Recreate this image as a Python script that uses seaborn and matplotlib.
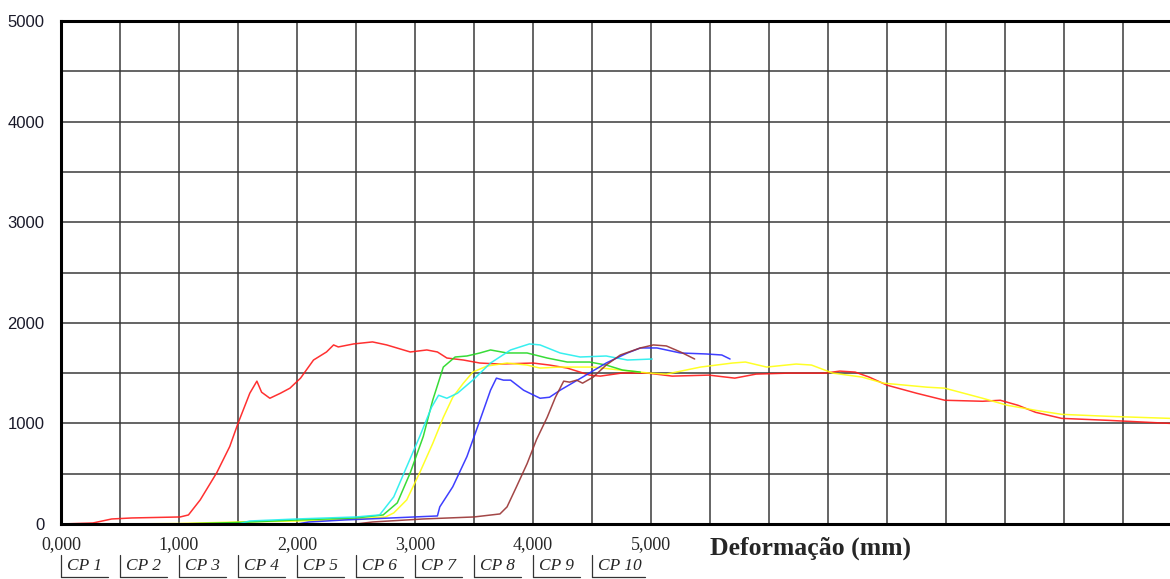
import numpy as np
import pandas as pd
import matplotlib
matplotlib.use("Agg")
import matplotlib.pyplot as plt
import matplotlib.transforms as mtransforms
from matplotlib.lines import Line2D
from matplotlib.ticker import FixedLocator, MultipleLocator, FuncFormatter
import seaborn as sns

# ---------------- data ----------------
red_x = [0, 0.27, 0.43, 0.6, 1.01, 1.08, 1.18, 1.32, 1.43, 1.50, 1.60, 1.66, 1.70, 1.77, 1.86,
         1.94, 2.03, 2.14, 2.25, 2.31, 2.35, 2.48, 2.64, 2.76, 2.96, 3.10, 3.19, 3.27, 3.41,
         3.55, 3.72, 4.00, 4.14, 4.29, 4.48, 4.57, 4.75, 4.97, 5.18, 5.49, 5.71, 5.89, 6.17,
         6.48, 6.60, 6.73, 6.85, 7.00, 7.25, 7.49, 7.81, 7.96, 8.11, 8.26, 8.48, 8.88, 9.40]
red_y = [0, 10, 50, 60, 70, 90, 240, 510, 770, 1000, 1300, 1420, 1310, 1250, 1300,
         1350, 1450, 1630, 1710, 1780, 1760, 1790, 1810, 1780, 1710, 1730, 1710, 1650, 1630,
         1600, 1590, 1600, 1580, 1550, 1480, 1470, 1500, 1500, 1470, 1480, 1450, 1490, 1500,
         1500, 1520, 1510, 1460, 1380, 1300, 1230, 1220, 1230, 1180, 1110, 1050, 1030, 1000]

yellow_x = [0.5, 1.0, 1.5, 2.0, 2.5, 2.75, 2.82, 2.93, 3.04, 3.15, 3.24, 3.32, 3.41, 3.49,
            3.61, 3.78, 3.95, 4.06, 4.23, 4.37, 4.51, 4.74, 4.99, 5.13, 5.42, 5.69, 5.80,
            5.98, 6.23, 6.36, 6.54, 6.79, 6.97, 7.34, 7.49, 7.81, 8.02, 8.26, 8.48, 8.88, 9.40]
yellow_y = [0, 5, 20, 30, 50, 70, 110, 240, 510, 800, 1060, 1260, 1400, 1510,
            1570, 1600, 1580, 1550, 1560, 1560, 1560, 1530, 1500, 1490, 1560, 1600, 1610,
            1560, 1590, 1580, 1500, 1460, 1400, 1360, 1350, 1250, 1180, 1130, 1090, 1070, 1050]

green_x = [1.0, 1.5, 2.0, 2.5, 2.73, 2.85, 2.96, 3.07, 3.15, 3.24, 3.34, 3.44, 3.55, 3.64,
           3.78, 3.95, 4.12, 4.29, 4.48, 4.62, 4.76, 4.91]
green_y = [0, 15, 40, 60, 90, 210, 510, 870, 1230, 1560, 1660, 1670, 1700, 1730,
           1700, 1700, 1650, 1610, 1610, 1580, 1530, 1510]

cyan_x = [1.5, 1.6, 2.0, 2.5, 2.70, 2.82, 2.93, 3.04, 3.14, 3.20, 3.27, 3.36, 3.49, 3.64,
          3.81, 3.97, 4.06, 4.23, 4.40, 4.62, 4.80, 5.01]
cyan_y = [0, 30, 50, 70, 90, 270, 570, 870, 1160, 1280, 1250, 1300, 1430, 1600,
          1730, 1790, 1780, 1700, 1660, 1670, 1630, 1640]

blue_x = [2.0, 2.1, 2.4, 2.8, 3.19, 3.21, 3.32, 3.44, 3.55, 3.64, 3.69, 3.75, 3.81, 3.92,
          4.06, 4.14, 4.23, 4.42, 4.62, 4.80, 4.91, 5.05, 5.25, 5.47, 5.60, 5.67]
blue_y = [0, 20, 40, 60, 80, 170, 370, 670, 1030, 1330, 1450, 1430, 1430, 1330,
          1250, 1260, 1330, 1460, 1600, 1700, 1750, 1750, 1700, 1690, 1680, 1640]

brown_x = [2.5, 2.64, 3.07, 3.5, 3.72, 3.78, 3.86, 3.95, 4.03, 4.12, 4.19, 4.26, 4.31, 4.37,
           4.42, 4.51, 4.62, 4.74, 4.91, 5.02, 5.13, 5.25, 5.37]
brown_y = [0, 20, 50, 70, 100, 170, 370, 600, 840, 1060, 1260, 1420, 1410, 1430,
           1400, 1460, 1580, 1680, 1750, 1780, 1770, 1710, 1640]

series_names = ["CP 1", "CP 2", "CP 3", "CP 4", "CP 5", "CP 6"]
series_colors = ["#ff1a1a", "#ffff10", "#22d822", "#22eeee", "#2a2aff", "#993333"]
legend_labels = ["CP 1", "CP 2", "CP 3", "CP 4", "CP 5", "CP 6", "CP 7", "CP 8", "CP 9", "CP 10"]
x_tick_values = [0, 1, 2, 3, 4, 5]
y_tick_values = [0, 1000, 2000, 3000, 4000, 5000]
x_label = "Deformação (mm)"

frames = []
for name, xs, ys in zip(series_names,
                        [red_x, yellow_x, green_x, cyan_x, blue_x, brown_x],
                        [red_y, yellow_y, green_y, cyan_y, blue_y, brown_y]):
    frames.append(pd.DataFrame({"x": xs, "y": ys, "cp": name}))
df = pd.concat(frames, ignore_index=True)

# ---------------- figure ----------------
sns.set_style("white")
plt.rcParams["font.family"] = ["Liberation Serif", "DejaVu Serif"]

W, H = 1170, 579
fig = plt.figure(figsize=(W / 100, H / 100), dpi=100)
left_px, right_px, top_px, bottom_px = 61, 1170, 21, 524
ax = fig.add_axes([left_px / W, (H - bottom_px) / H, (right_px - left_px) / W,
                   (bottom_px - top_px) / H])

sns.lineplot(data=df, x="x", y="y", hue="cp", hue_order=series_names,
             palette=dict(zip(series_names, series_colors)), sort=False,
             estimator=None, legend=False, linewidth=1.1, alpha=0.9, ax=ax)

px_per_unit = 118.0
ax.set_xlim(0, (right_px - left_px) / px_per_unit)
ax.set_ylim(0, 5000)

ax.xaxis.set_major_locator(FixedLocator(np.arange(0, 9.01, 0.5)))
ax.xaxis.set_major_formatter(FuncFormatter(
    lambda v, p: (f"{v:.3f}".replace(".", ",") if any(abs(v - t) < 1e-6 for t in x_tick_values) else "")))
ax.yaxis.set_major_locator(MultipleLocator(500))
ax.yaxis.set_major_formatter(FuncFormatter(
    lambda v, p: (f"{int(round(v))}" if any(abs(v - t) < 1e-6 for t in y_tick_values) else "")))

ax.grid(True, color="#3a3a3a", linewidth=1.1)
ax.set_axisbelow(True)
ax.tick_params(axis="both", length=0)
ax.tick_params(axis="x", pad=9, labelsize=13)
ax.tick_params(axis="y", pad=12, labelsize=12)
for lab in ax.get_yticklabels():
    lab.set_fontfamily("Liberation Sans")
    lab.set_color("#1a1a2a")

for s in ["left", "top", "bottom"]:
    ax.spines[s].set_visible(True)
    ax.spines[s].set_color("black")
    ax.spines[s].set_linewidth(2.2)
ax.spines["right"].set_visible(False)
ax.set_xlabel("")
ax.set_ylabel("")

blend = mtransforms.blended_transform_factory(ax.transData, fig.transFigure)
ax.text(5.5, (H - 548) / H, x_label, transform=blend, ha="left", va="center",
        fontsize=18.5, fontweight="bold", clip_on=False)

# legend-like labels below the axis
y_top = (H - 555) / H
y_bot = (H - 576.5) / H
for i, lab in enumerate(legend_labels):
    x0 = i * 0.5
    ax.text(x0 + 0.05, (H - 566) / H, lab, transform=blend, ha="left", va="center",
            fontsize=12.5, fontstyle="italic", clip_on=False)
    fig.add_artist(Line2D([x0, x0], [y_top, y_bot], transform=blend, color="#333333", lw=0.9))
    fig.add_artist(Line2D([x0, x0 + (0.45 if i == 9 else 0.40)], [y_bot, y_bot], transform=blend,
                          color="#333333", lw=0.9))

fig.savefig("out.png", dpi=100)
